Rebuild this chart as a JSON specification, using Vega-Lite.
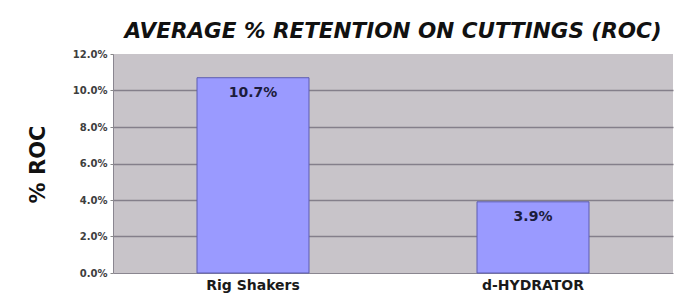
{
  "$schema": "https://vega.github.io/schema/vega-lite/v6.json",
  "autosize": "none",
  "width": 560,
  "height": 219,
  "padding": {"left": 113, "top": 54, "right": 20, "bottom": 22},
  "background": "#ffffff",
  "data": {"values": [
    {"system": "Rig Shakers", "roc": 0.107},
    {"system": "d-HYDRATOR", "roc": 0.039}
  ]},
  "title": {
    "text": "AVERAGE % RETENTION ON CUTTINGS (ROC)",
    "font": "DejaVu Sans",
    "fontSize": 21.5,
    "fontWeight": "bold",
    "fontStyle": "italic",
    "color": "#111111",
    "anchor": "middle",
    "offset": 7
  },
  "config": {
    "view": {"fill": "#c8c4c9", "stroke": null},
    "axis": {"labelFont": "DejaVu Sans", "titleFont": "DejaVu Sans"}
  },
  "encoding": {
    "x": {
      "field": "system", "type": "nominal", "sort": null,
      "scale": {"paddingInner": 0, "paddingOuter": 0},
      "axis": {"title": null, "labelAngle": 0, "labelFontSize": 14, "labelFontWeight": "bold", "labelColor": "#1a1a1a", "labelPadding": 5, "ticks": false, "domainColor": "#8a8690", "domainWidth": 1}
    },
    "y": {
      "field": "roc", "type": "quantitative",
      "scale": {"domain": [0, 0.12], "nice": false},
      "axis": {
        "title": "% ROC", "format": ".1%", "values": [0, 0.02, 0.04, 0.06, 0.08, 0.1, 0.12],
        "labelFontSize": 10, "labelFontWeight": "bold", "labelColor": "#3e3e3e", "labelPadding": 3,
        "tickSize": 3, "tickColor": "#888888",
        "gridColor": {"condition": {"test": "datum.value >= 0.12 || datum.value <= 0", "value": "transparent"}, "value": "#847f8a"},
        "gridWidth": 1.5,
        "domainColor": "#8a8690",
        "titleFontSize": 21, "titleFontWeight": "bold", "titleColor": "#111111",
        "titleX": -75, "titleY": 110, "titleAngle": -90, "titleAlign": "center", "titleBaseline": "middle"
      }
    }
  },
  "layer": [
    {
      "mark": {"type": "bar", "width": {"band": 0.4}, "fill": "#9a9aff", "stroke": "#5c5cb0", "strokeWidth": 1}
    },
    {
      "mark": {"type": "text", "baseline": "middle", "dy": 15, "font": "DejaVu Sans", "fontSize": 14, "fontWeight": "bold", "color": "#1c1c3c"},
      "encoding": {"text": {"field": "roc", "type": "quantitative", "format": ".1%"}}
    }
  ]
}
